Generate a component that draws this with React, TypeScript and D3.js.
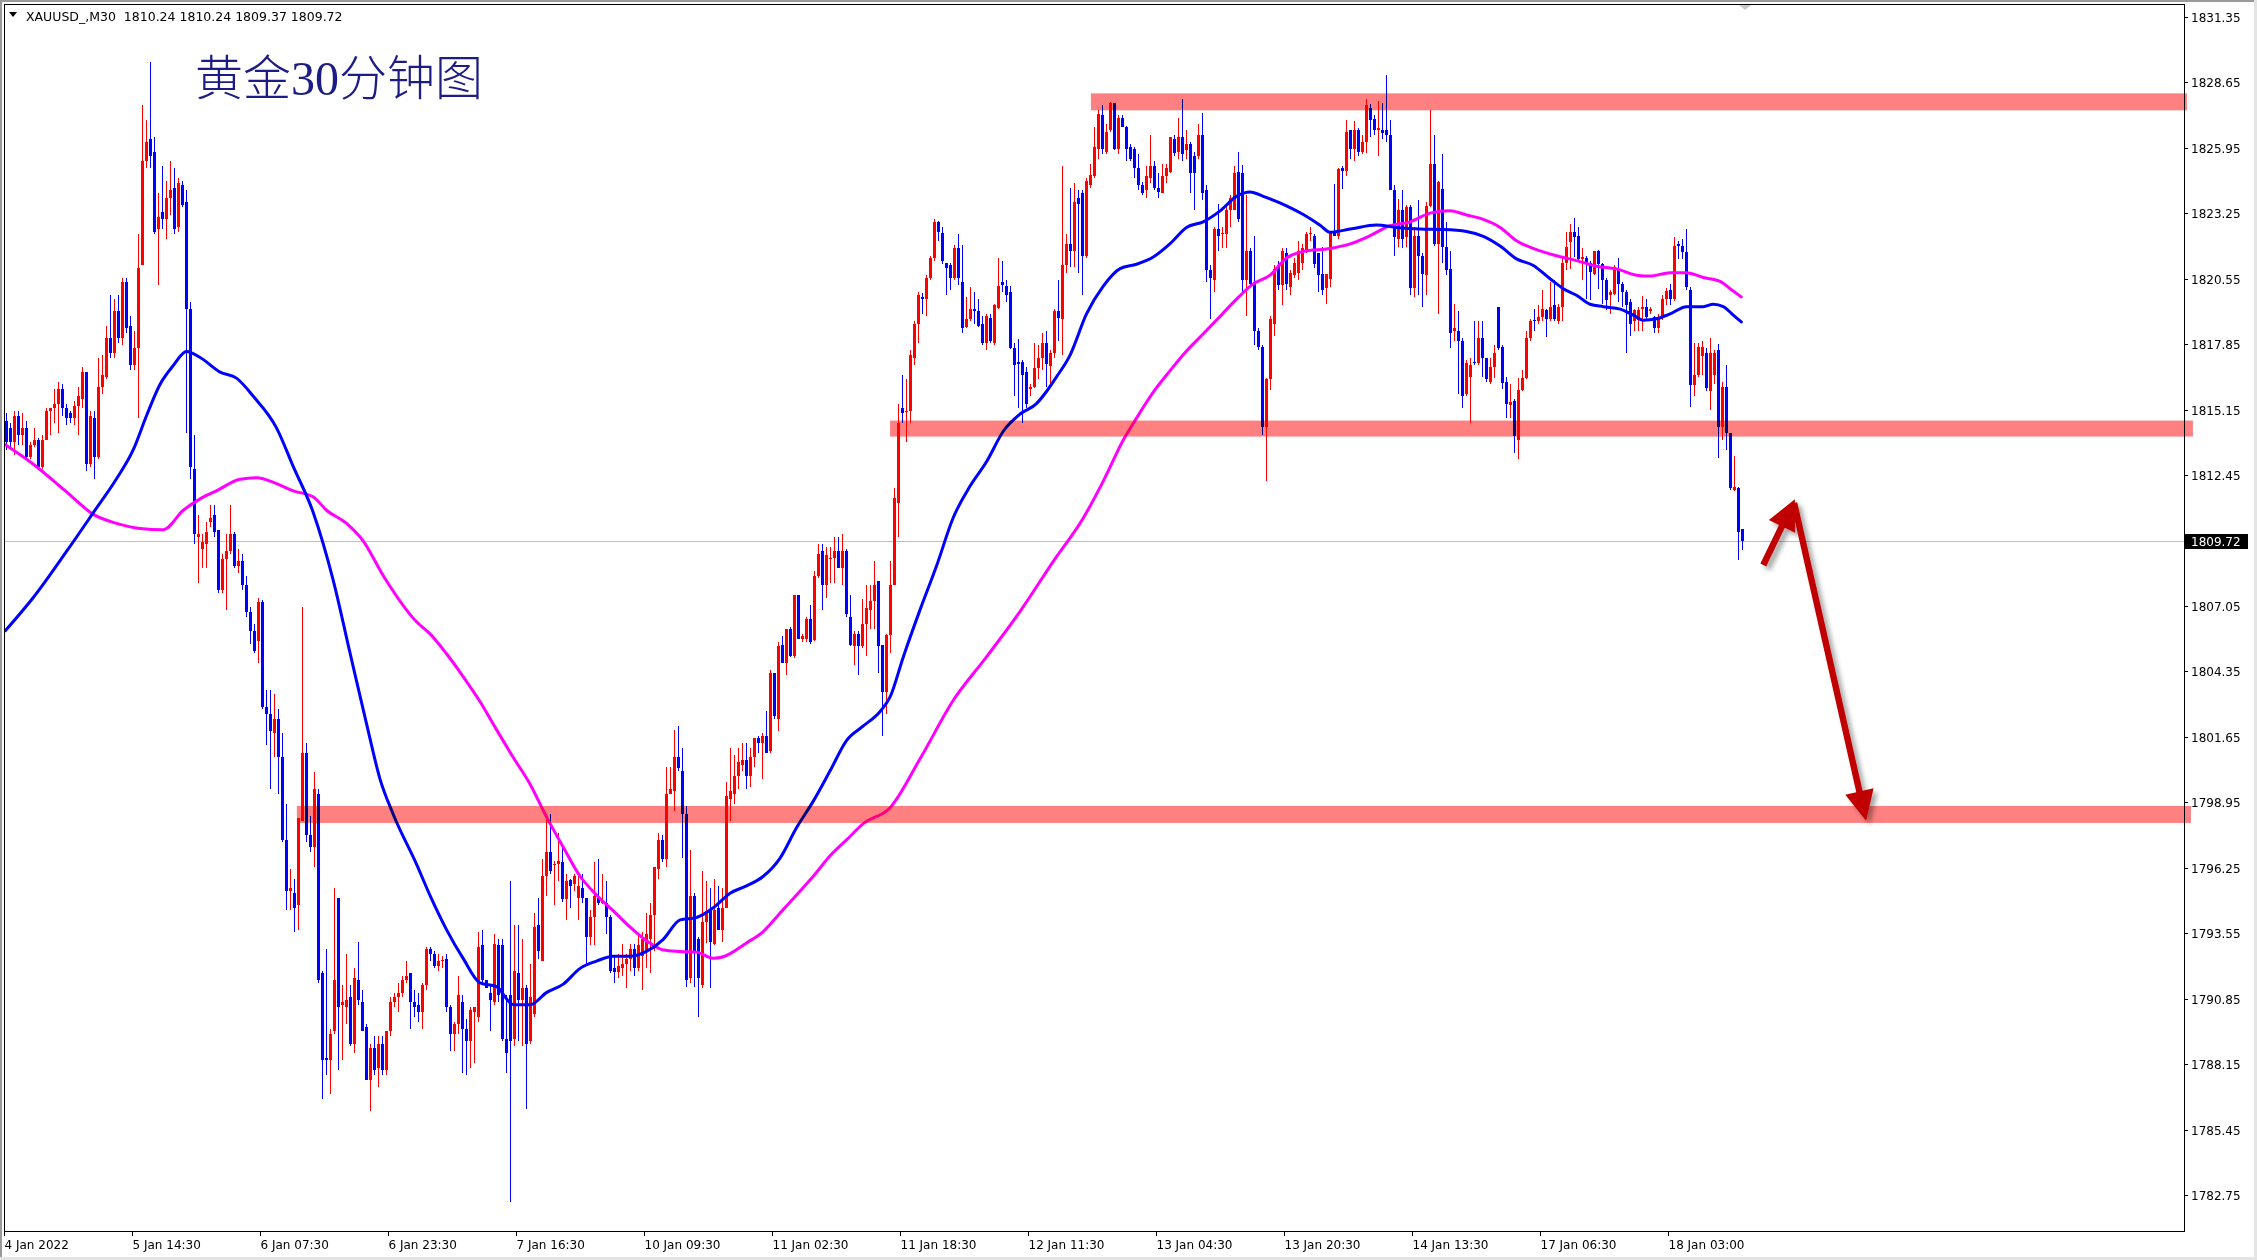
import React from 'react';
import * as d3 from 'd3';

// ---------- DATA ----------
const opens = [
1814.7,1814.4,1813.8,1814.9,1814.1,1814.4,1813.2,1813.7,1813.9,1812.8,
1813.9,1815.1,1815.2,1815.4,1816.0,1815.2,1815.0,1814.8,1815.3,1815.6,
1816.7,1812.9,1814.8,1813.2,1816.1,1816.5,1818.1,1817.5,1819.2,1818.1,
1820.4,1818.6,1817.0,1817.7,1821.1,1825.4,1826.3,1825.8,1822.6,1823.3,
1823.0,1823.9,1824.3,1822.7,1824.4,1823.7,1819.3,1812.7,1809.9,1809.4,
1809.6,1810.5,1810.8,1810.2,1807.7,1809.0,1809.3,1810.0,1808.7,1808.9,
1807.9,1806.8,1806.0,1805.6,1807.2,1802.9,1802.6,1801.8,1802.4,1800.8,
1797.4,1795.3,1795.2,1794.7,1798.2,1801.0,1797.6,1797.1,1799.3,1791.9,
1788.4,1788.3,1789.5,1795.0,1790.6,1790.5,1790.9,1789.0,1791.6,1790.7,
1789.7,1787.5,1788.8,1788.0,1789.0,1787.9,1789.5,1790.7,1790.9,1791.1,
1791.6,1791.9,1790.7,1790.6,1790.3,1791.4,1792.9,1792.7,1792.2,1792.4,
1792.5,1790.5,1789.4,1789.8,1790.7,1789.6,1789.1,1790.3,1790.1,1793.05,
1791.6,1791.1,1790.7,1793.05,1793.05,1789.2,1791.0,1789.2,1791.9,1790.8,
1791.3,1789.1,1790.2,1793.9,1792.4,1795.9,1796.9,1796.35,1796.4,1796.5,
1794.95,1795.75,1795.6,1795.0,1795.4,1795.0,1793.4,1794.2,1795.0,1794.8,
1794.8,1794.2,1792.1,1791.95,1792.1,1792.3,1792.5,1792.9,1792.1,1792.6,
1792.8,1793.3,1794.3,1796.2,1797.4,1796.6,1799.3,1799.4,1800.8,1800.25,
1798.45,1791.7,1795.1,1793.3,1791.4,1794.0,1794.5,1793.1,1794.6,1793.7,
1794.6,1799.1,1799.3,1800.05,1800.5,1800.7,1800.05,1800.8,1801.6,1801.4,
1801.7,1801.05,1804.3,1802.4,1805.45,1804.7,1806.1,1805.0,1807.5,1805.7,
1805.7,1806.5,1805.65,1808.3,1809.3,1807.9,1809.0,1809.05,1809.3,1808.6,
1809.3,1806.6,1805.4,1805.9,1805.4,1806.3,1806.9,1807.25,1808.1,1805.45,
1803.5,1805.85,1807.9,1811.3,1815.2,1815.05,1815.1,1817.3,1818.7,1819.8,
1819.7,1820.6,1821.4,1822.9,1822.45,1821.2,1821.1,1820.6,1821.8,1820.4,
1818.55,1818.9,1819.3,1819.2,1818.7,1817.9,1818.95,1817.9,1819.35,1820.4,
1820.25,1820.0,1817.7,1817.1,1817.1,1816.7,1816.0,1816.1,1816.85,1817.3,
1817.9,1816.95,1817.5,1819.2,1818.9,1821.1,1822.0,1821.7,1823.9,1824.1,
1821.5,1824.4,1824.8,1825.9,1827.3,1825.8,1826.7,1827.8,1825.9,1827.2,
1826.8,1826.0,1825.9,1825.1,1824.4,1824.2,1824.7,1825.2,1824.3,1824.1,
1824.8,1824.95,1826.3,1825.8,1826.4,1825.85,1826.1,1825.6,1825.6,1826.5,
1824.2,1820.9,1820.5,1822.6,1822.4,1822.4,1823.4,1823.4,1824.95,1824.9,
1820.5,1821.7,1820.4,1818.4,1817.75,1814.45,1816.4,1818.7,1821.1,1820.3,
1821.6,1820.2,1820.7,1820.8,1821.2,1821.7,1822.4,1822.3,1821.6,1820.75,
1820.15,1820.55,1822.5,1822.3,1825.1,1825.0,1826.7,1825.9,1826.7,1825.8,
1826.2,1827.6,1827.15,1826.7,1826.7,1826.7,1826.5,1824.2,1822.2,1823.4,
1822.26,1823.5,1820.15,1822.3,1821.5,1820.7,1823.56,1825.3,1822.0,1824.25,
1821.85,1820.96,1818.4,1818.4,1818.0,1815.8,1816.5,1817.1,1817.06,1818.1,
1817.27,1816.3,1816.9,1819.4,1817.75,1816.3,1815.35,1815.5,1813.9,1815.97,
1816.45,1818.1,1818.85,1818.8,1818.97,1819.25,1818.9,1819.45,1818.8,1819.4,
1821.2,1822.05,1822.47,1822.33,1821.37,1821.4,1821.2,1820.76,1821.7,1821.17,
1820.5,1819.9,1819.93,1820.9,1820.35,1820.0,1819.6,1818.8,1818.85,1819.3,
1819.4,1819.2,1818.98,1818.5,1818.98,1819.73,1820.07,1819.7,1822.0,1821.9,
1821.67,1820.1,1816.17,1816.6,1817.35,1817.48,1815.9,1816.6,1817.62,1814.45,
1816.1,1814.18,1811.84,1811.91,1810.24
];

const highs = [
1815.0,1814.6,1815.1,1815.1,1815.0,1814.7,1813.8,1814.4,1814.0,1814.1,
1815.2,1815.2,1816.0,1816.3,1816.2,1815.4,1815.1,1815.5,1816.1,1816.9,
1816.7,1815.1,1815.1,1817.3,1817.4,1818.6,1819.9,1819.7,1819.9,1820.6,
1820.6,1819.0,1818.4,1822.4,1827.7,1827.1,1829.5,1826.4,1824.1,1825.2,
1824.6,1825.4,1825.1,1824.7,1824.6,1824.2,1819.6,1814.1,1810.8,1810.0,
1810.5,1811.2,1811.2,1810.2,1809.2,1810.0,1811.2,1810.1,1809.4,1809.2,
1808.3,1807.0,1806.3,1807.4,1807.3,1803.6,1803.6,1803.4,1802.8,1801.8,
1798.9,1796.2,1795.8,1798.3,1807.0,1801.4,1798.4,1800.2,1799.5,1792.0,
1792.9,1789.6,1795.4,1795.0,1791.4,1792.7,1791.4,1792.1,1793.2,1791.2,
1789.8,1789.0,1789.3,1789.3,1789.3,1789.5,1790.9,1791.1,1791.5,1791.8,
1792.4,1791.9,1791.2,1791.1,1791.5,1793.0,1793.0,1792.8,1792.7,1792.6,
1792.7,1790.6,1789.9,1791.8,1791.0,1790.0,1790.5,1790.5,1793.6,1793.7,
1791.6,1791.4,1793.5,1793.3,1793.3,1791.0,1795.7,1793.9,1793.9,1793.3,
1791.4,1792.3,1794.4,1795.0,1796.6,1798.45,1798.45,1796.55,1797.7,1797.1,
1796.0,1795.8,1796.0,1796.0,1796.0,1795.0,1794.5,1796.5,1796.6,1796.0,
1795.7,1794.3,1792.6,1792.7,1793.1,1792.7,1793.1,1793.1,1793.5,1793.6,
1794.4,1794.8,1796.3,1797.7,1797.6,1800.4,1800.4,1801.95,1802.1,1801.2,
1798.8,1797.0,1795.2,1793.4,1796.1,1795.7,1795.4,1795.8,1795.5,1795.4,
1799.8,1801.2,1800.9,1801.2,1801.4,1801.4,1801.2,1801.6,1801.7,1801.8,
1802.7,1804.4,1804.3,1805.55,1805.8,1806.1,1806.2,1807.5,1807.5,1805.9,
1806.6,1807.1,1808.5,1809.6,1809.6,1809.5,1809.5,1809.9,1809.9,1810.0,
1809.4,1807.5,1806.0,1806.0,1807.35,1807.9,1807.9,1808.9,1808.1,1805.45,
1805.9,1808.9,1811.9,1815.4,1816.6,1816.4,1817.6,1818.8,1820.0,1819.95,
1820.7,1821.5,1823.0,1822.95,1822.7,1821.2,1821.2,1821.95,1822.4,1821.95,
1819.8,1820.2,1820.0,1819.7,1819.0,1819.1,1819.1,1819.5,1821.4,1821.3,
1820.5,1820.25,1817.9,1818.05,1817.2,1816.9,1816.2,1817.9,1817.8,1818.3,
1818.4,1817.6,1819.3,1820.5,1825.2,1822.4,1824.3,1824.5,1824.2,1824.2,
1824.7,1825.3,1826.8,1827.5,1827.7,1826.95,1827.85,1827.8,1827.3,1827.3,
1826.85,1826.1,1826.0,1825.7,1824.55,1825.2,1826.5,1825.4,1824.9,1825.3,
1825.3,1826.4,1826.5,1827.2,1827.95,1826.7,1826.2,1825.8,1826.95,1827.4,
1824.4,1821.1,1822.7,1823.65,1822.7,1823.5,1824.0,1825.2,1825.8,1825.26,
1824.0,1821.8,1822.3,1818.5,1817.8,1816.45,1819.0,1821.1,1821.3,1821.8,
1821.8,1820.9,1821.4,1822.1,1822.0,1822.5,1822.7,1822.4,1821.6,1821.85,
1820.75,1822.5,1824.45,1825.1,1825.2,1827.1,1826.7,1827.05,1826.75,1826.5,
1827.95,1827.75,1827.3,1827.9,1827.8,1828.96,1827.1,1824.4,1823.83,1824.2,
1823.6,1823.6,1822.67,1823.8,1821.6,1823.7,1827.5,1826.5,1824.6,1825.7,
1822.9,1821.7,1819.5,1819.2,1818.1,1817.2,1817.3,1818.8,1818.8,1818.8,
1817.3,1817.3,1817.8,1819.4,1817.8,1816.5,1816.2,1815.6,1816.45,1816.8,
1818.4,1818.9,1819.3,1819.45,1820.1,1819.3,1820.4,1820.5,1819.5,1821.5,
1822.5,1822.8,1823.05,1822.67,1821.8,1821.5,1821.3,1821.7,1821.75,1821.2,
1820.6,1820.1,1821.1,1821.4,1820.4,1820.1,1819.7,1819.3,1819.4,1819.84,
1819.7,1819.4,1819.0,1819.1,1819.87,1820.17,1820.35,1822.26,1822.1,1822.2,
1822.6,1820.2,1817.9,1817.9,1818.0,1817.7,1818.1,1817.6,1817.85,1816.3,
1817.0,1814.2,1813.22,1811.95,1810.24
];

const lows = [
1813.5,1813.6,1813.3,1813.7,1813.7,1813.1,1813.1,1813.6,1812.7,1812.7,
1813.9,1814.1,1814.6,1814.2,1814.9,1814.5,1814.6,1814.5,1814.1,1815.2,
1812.6,1812.8,1812.3,1813.1,1815.8,1816.4,1817.3,1817.3,1817.9,1817.8,
1818.3,1816.8,1816.8,1814.8,1821.1,1825.1,1825.1,1822.4,1820.3,1822.6,
1822.2,1823.2,1822.4,1822.5,1823.5,1814.2,1812.3,1809.6,1808.0,1808.6,
1808.6,1810.3,1809.9,1807.6,1807.6,1806.9,1809.2,1808.6,1808.4,1807.7,
1806.6,1805.5,1805.1,1804.7,1802.8,1801.3,1799.5,1800.8,1799.3,1797.3,
1794.5,1794.5,1793.6,1793.7,1798.2,1797.3,1796.9,1796.3,1791.5,1786.7,
1787.7,1786.9,1789.4,1787.9,1788.3,1789.8,1788.9,1788.6,1790.6,1789.5,
1787.5,1786.2,1787.7,1787.2,1787.7,1787.7,1789.3,1790.5,1790.3,1790.9,
1791.5,1789.6,1790.1,1789.9,1789.6,1791.2,1792.4,1792.1,1792.0,1792.1,
1790.3,1788.7,1788.7,1789.4,1787.8,1787.7,1788.0,1788.2,1789.9,1791.5,
1791.3,1789.5,1790.6,1790.7,1789.1,1787.8,1782.45,1788.9,1789.1,1788.9,
1786.3,1789.0,1790.1,1792.5,1792.4,1795.1,1796.0,1794.7,1795.7,1794.85,
1794.1,1794.6,1795.3,1794.1,1794.8,1792.3,1793.05,1793.05,1794.7,1794.75,
1793.5,1791.9,1791.5,1791.7,1791.8,1791.3,1792.0,1791.8,1792.0,1791.2,
1792.1,1791.9,1792.8,1795.8,1796.5,1796.3,1799.3,1798.6,1800.25,1796.65,
1791.35,1791.5,1791.35,1790.1,1791.3,1793.15,1791.3,1793.05,1793.7,1793.2,
1794.6,1798.2,1798.9,1799.5,1800.25,1799.5,1799.6,1800.4,1801.0,1799.9,
1801.0,1801.0,1802.4,1801.9,1804.7,1804.2,1804.95,1804.9,1805.7,1805.55,
1805.55,1805.5,1805.6,1808.2,1806.9,1807.4,1808.0,1808.0,1808.6,1807.9,
1806.6,1805.4,1804.6,1804.2,1805.3,1805.0,1806.1,1806.1,1804.3,1801.7,
1802.6,1805.1,1807.9,1809.9,1814.6,1813.8,1814.6,1817.0,1817.9,1819.1,
1819.0,1820.5,1821.3,1822.1,1821.15,1819.9,1820.1,1820.5,1820.3,1818.3,
1818.5,1818.8,1818.7,1818.55,1817.8,1817.6,1817.9,1817.8,1819.3,1820.0,
1819.6,1817.65,1815.7,1815.2,1814.6,1815.2,1815.7,1816.05,1816.4,1816.8,
1816.1,1816.2,1817.3,1818.0,1817.4,1820.8,1821.05,1821.05,1820.8,1819.9,
1821.4,1824.3,1824.7,1825.5,1825.7,1825.7,1826.6,1825.85,1825.7,1826.8,
1825.4,1825.4,1824.7,1824.2,1824.0,1823.9,1824.5,1824.2,1823.9,1824.1,
1824.5,1824.9,1825.6,1825.5,1825.4,1825.5,1824.1,1823.4,1825.5,1823.8,
1820.4,1818.9,1820.0,1821.7,1821.8,1821.8,1822.7,1823.4,1822.9,1819.9,
1819.0,1820.2,1817.8,1817.6,1814.1,1812.2,1815.95,1818.2,1820.1,1819.45,
1820.1,1819.9,1820.6,1820.5,1820.9,1821.6,1822.1,1821.0,1820.0,1819.9,
1819.5,1820.2,1822.3,1822.2,1824.25,1824.8,1825.5,1825.4,1825.6,1825.7,
1825.75,1826.4,1826.5,1825.6,1826.3,1826.2,1824.2,1821.5,1821.85,1821.8,
1821.85,1819.9,1819.8,1819.9,1819.4,1819.9,1823.5,1821.9,1819.1,1821.2,
1820.7,1817.7,1818.0,1815.8,1815.2,1815.7,1814.6,1817.0,1817.0,1816.5,
1816.3,1816.2,1816.45,1817.6,1816.0,1814.8,1814.8,1813.37,1813.1,1815.9,
1816.4,1818.0,1818.4,1818.7,1818.8,1818.15,1818.8,1818.8,1818.7,1818.8,
1820.9,1820.96,1821.44,1821.3,1820.5,1819.7,1819.66,1820.7,1820.14,1819.5,
1819.25,1819.1,1819.9,1819.6,1819.4,1817.5,1818.2,1818.4,1818.4,1818.4,
1818.8,1819.1,1818.3,1818.3,1818.85,1819.45,1819.45,1819.65,1821.37,1821.37,
1820.1,1815.24,1815.7,1816.5,1816.6,1815.9,1815.14,1816.2,1813.15,1813.9,
1813.49,1811.84,1811.8,1808.95,1809.37
];

const closes = [
1813.8,1813.8,1814.9,1814.1,1814.4,1813.2,1813.7,1813.9,1812.8,1813.9,
1815.1,1815.2,1815.4,1816.0,1815.2,1814.8,1814.8,1815.3,1815.7,1816.7,
1812.9,1814.9,1813.2,1816.1,1816.6,1818.1,1817.5,1819.2,1818.1,1820.4,
1818.5,1817.0,1817.7,1821.0,1825.4,1826.2,1825.6,1822.5,1823.1,1823.0,
1823.9,1824.2,1822.6,1824.5,1823.6,1819.3,1812.8,1810.0,1810.0,1809.7,
1810.1,1810.7,1810.1,1807.7,1809.0,1809.3,1810.0,1808.7,1808.9,1807.9,
1806.8,1806.0,1805.2,1807.2,1802.9,1802.6,1801.9,1802.4,1800.8,1797.4,
1795.3,1795.4,1794.6,1798.3,1801.0,1797.6,1797.1,1799.5,1791.6,1788.3,
1788.3,1789.4,1791.6,1790.5,1790.7,1790.8,1789.0,1791.7,1790.8,1789.5,
1787.5,1788.8,1787.9,1789.0,1787.9,1789.5,1790.7,1790.9,1791.1,1791.6,
1791.8,1790.7,1790.5,1790.3,1791.4,1792.9,1792.7,1792.2,1792.4,1792.45,
1790.5,1789.4,1789.8,1791.0,1789.6,1789.1,1790.4,1790.5,1793.0,1791.6,
1791.3,1790.8,1793.1,1791.0,1789.2,1788.6,1789.1,1792.0,1790.8,1791.3,
1789.0,1790.9,1793.8,1792.8,1795.9,1796.9,1796.1,1796.4,1796.55,1794.95,
1795.7,1795.5,1795.9,1795.5,1795.0,1793.4,1794.2,1795.1,1794.8,1794.9,
1794.2,1792.0,1791.95,1792.2,1792.3,1792.5,1792.9,1792.1,1793.05,1793.3,
1793.5,1794.3,1796.3,1797.4,1796.6,1799.3,1799.5,1800.8,1800.35,1798.45,
1791.6,1795.1,1792.8,1791.7,1794.0,1794.4,1793.2,1794.5,1793.7,1794.6,
1799.2,1799.4,1800.05,1800.6,1800.7,1800.05,1800.8,1801.6,1801.4,1801.7,
1801.0,1804.3,1802.5,1805.4,1804.7,1806.1,1805.0,1807.5,1805.7,1805.8,
1806.5,1805.55,1808.3,1809.2,1807.9,1809.15,1809.05,1809.3,1808.6,1809.3,
1806.7,1805.45,1805.9,1805.4,1806.3,1806.95,1807.25,1807.9,1805.4,1803.5,
1805.85,1807.9,1811.5,1814.6,1815.0,1815.1,1817.4,1818.7,1819.9,1819.7,
1820.6,1821.4,1822.9,1822.5,1821.3,1821.0,1820.6,1821.8,1820.6,1818.5,
1818.9,1819.3,1819.2,1818.6,1817.9,1819.0,1818.0,1819.45,1820.25,1820.3,
1819.9,1817.7,1817.0,1817.05,1816.6,1815.4,1816.1,1816.85,1817.3,1817.9,
1817.05,1817.5,1819.2,1818.95,1821.1,1822.0,1821.7,1823.7,1823.65,1821.5,
1824.6,1824.85,1826.0,1827.35,1825.9,1826.6,1827.8,1825.9,1827.2,1826.8,
1825.9,1825.5,1825.1,1824.4,1824.1,1824.8,1825.2,1824.3,1824.15,1824.8,
1825.1,1826.4,1825.75,1826.4,1825.7,1826.1,1824.9,1824.9,1826.5,1824.1,
1820.9,1820.6,1822.6,1822.3,1822.45,1823.4,1823.9,1824.9,1823.0,1820.5,
1821.7,1820.35,1818.4,1817.75,1814.45,1816.4,1818.9,1820.95,1820.3,1821.7,
1820.35,1820.8,1821.2,1821.7,1821.8,1822.4,1822.45,1821.15,1820.7,1820.1,
1820.75,1822.5,1822.3,1825.07,1825.0,1826.6,1825.9,1826.7,1825.8,1826.2,
1827.7,1827.1,1826.7,1826.75,1826.55,1826.5,1824.2,1822.26,1823.4,1822.2,
1823.5,1820.15,1822.33,1821.5,1820.76,1823.56,1825.3,1821.99,1824.55,1821.85,
1820.9,1818.3,1818.5,1818.0,1815.7,1817.06,1817.0,1817.06,1818.1,1817.27,
1816.4,1816.9,1817.5,1817.7,1816.25,1815.4,1815.45,1814.05,1815.97,1816.45,
1818.1,1818.8,1818.8,1818.97,1819.3,1818.9,1819.4,1818.9,1819.4,1821.2,
1821.85,1822.47,1822.26,1821.37,1821.44,1821.2,1820.85,1821.7,1821.17,1820.5,
1819.66,1820.0,1821.03,1820.35,1820.0,1819.45,1818.7,1819.25,1819.25,1819.4,
1818.98,1819.3,1818.5,1818.98,1819.73,1820.03,1819.7,1821.92,1821.9,1821.65,
1820.2,1816.17,1816.6,1817.75,1817.75,1816.04,1817.48,1817.48,1814.45,1816.1,
1814.18,1811.91,1811.95,1810.12,1809.72
];

// Moving averages, sampled along the picture: [bar index, price]
const maBlue: [number, number][] = [
[0,1806.03],[7,1807.4],[15.3,1809.3],[22,1810.9],[27.8,1812.3],[32,1813.5],[35.3,1814.9],[38.7,1816.2],
[42,1816.97],[45.3,1817.55],[48.7,1817.3],[53.7,1816.7],[57.8,1816.45],[62,1815.7],[67.8,1814.4],[72,1812.8],
[77,1810.9],[82,1808.1],[86.2,1805.1],[90.3,1802.2],[93.7,1799.9],[97,1798.45],[102.8,1796.4],[106.2,1795.1],
[110.3,1793.7],[114.5,1792.5],[118.7,1791.5],[122.8,1791.35],[127,1790.6],[131.2,1790.6],[135.3,1791.1],
[139.5,1791.45],[143.7,1792.1],[147.8,1792.4],[152,1792.6],[156.2,1792.6],[160.3,1792.8],[164.5,1793.3],
[168.7,1794.1],[172.8,1794.2],[177,1794.6],[181.2,1795.2],[185.3,1795.5],[189.5,1795.9],[193.7,1796.65],
[197.8,1797.9],[202,1799.0],[206.2,1800.25],[210.3,1801.5],[214.5,1802.1],[218.7,1802.7],[221.2,1803.3],
[224.5,1804.95],[228.7,1806.9],[232.8,1808.7],[237,1810.7],[241.2,1812.0],[245.3,1813.0],[249.5,1814.26],
[253.7,1814.97],[257.8,1815.4],[260.3,1815.9],[262.8,1816.5],[266.2,1817.4],[270.3,1819.1],[274.5,1820.25],
[278.7,1820.97],[282.8,1821.15],[287,1821.45],[291.2,1822.0],[295.3,1822.67],[299.5,1822.9],[303.7,1823.35],
[307.8,1823.95],[311.2,1824.13],[314.5,1823.95],[320.3,1823.56],[324.5,1823.2],[328.7,1822.76],[331.2,1822.47],
[336.2,1822.6],[342.8,1822.77],[347.8,1822.67],[353.7,1822.6],[359.5,1822.58],[365.3,1822.5],[369.5,1822.3],
[373.7,1821.9],[377.8,1821.37],[382,1821.1],[386.2,1820.55],[389.5,1820.14],[392.8,1819.87],[396.2,1819.5],
[399.5,1819.4],[403.7,1819.3],[407,1819.05],[409.5,1818.84],[412.8,1818.9],[416.2,1819.1],[420.3,1819.4],
[424.5,1819.4],[427,1819.5],[429.5,1819.4],[432,1819.05],[434,1818.77]
];
const maMagenta: [number, number][] = [
[0,1813.7],[7,1812.9],[15.3,1811.76],[22,1810.83],[27.8,1810.46],[33.7,1810.25],[39.5,1810.2],[44.5,1811.0],
[48.7,1811.47],[52.8,1811.8],[58.7,1812.28],[62.8,1812.34],[67.8,1812.1],[72,1811.8],[77,1811.55],[80.3,1811.0],
[85.3,1810.46],[89.5,1809.73],[94.5,1808.3],[102.8,1806.4],[106.2,1805.9],[110.3,1805.08],[114.5,1804.13],
[118.7,1803.1],[122.8,1801.95],[127,1800.8],[131.2,1799.7],[135.3,1798.35],[139.5,1797.1],[143.7,1795.9],
[147.8,1795.13],[152,1794.47],[156.2,1793.8],[160.3,1793.24],[164.5,1792.86],[168.7,1792.8],[172.8,1792.77],
[177,1792.52],[179.5,1792.58],[185.3,1793.15],[189.5,1793.62],[193.7,1794.38],[197.8,1795.13],[202,1795.9],
[206.2,1796.75],[210.3,1797.4],[214.5,1798.07],[221.2,1798.73],[228.7,1800.75],[237,1803.16],[245.3,1804.95],
[253.7,1806.83],[262,1808.89],[269.5,1810.68],[274.5,1812.2],[279.5,1813.9],[282.8,1814.8],[287,1815.87],
[291.2,1816.76],[295.3,1817.57],[299.5,1818.28],[303.7,1819.0],[307.8,1819.71],[312,1820.34],[316.2,1820.7],
[320.3,1821.41],[324.5,1821.68],[331.2,1821.8],[336.2,1821.99],[341.2,1822.33],[346.2,1822.74],[351.2,1822.9],
[356.2,1823.26],[361.2,1823.36],[365.3,1823.18],[369.5,1823.0],[373.7,1822.67],[377.8,1822.12],[382.8,1821.75],
[387.8,1821.5],[392.8,1821.3],[397.8,1821.07],[402.8,1820.96],[407.8,1820.7],[411.2,1820.66],[416.2,1820.8],
[420.3,1820.8],[424.5,1820.6],[428.7,1820.44],[431.2,1820.14],[434,1819.8]
];

const priceTicks = [1831.35,1828.65,1825.95,1823.25,1820.55,1817.85,1815.15,1812.45,
  1807.05,1804.35,1801.65,1798.95,1796.25,1793.55,1790.85,1788.15,1785.45,1782.75];
const timeLabels = ["4 Jan 2022","5 Jan 14:30","6 Jan 07:30","6 Jan 23:30","7 Jan 16:30",
  "10 Jan 09:30","11 Jan 02:30","11 Jan 18:30","12 Jan 11:30","13 Jan 04:30",
  "13 Jan 20:30","14 Jan 13:30","17 Jan 06:30","18 Jan 03:00"];
const timeLabelBars = [0,32,64,96,128,160,192,224,256,288,320,352,384,416];

// support / resistance zones (bar index range, price range)
const bandFromBar = [271.4, 221.2, 72.9];
const bandToBar = [545.4, 546.9, 546.4];
const bandHigh = [1828.2, 1814.7, 1798.8];
const bandLow = [1827.5, 1814.04, 1798.1];

// arrows (bar index, price)
const arrowFromBar = [439.5, 447.2];
const arrowFromPrice = [1808.74, 1811.3];
const arrowToBar = [447.4, 465.2];
const arrowToPrice = [1811.45, 1798.19];

const lastPrice = 1809.72;
const header = "XAUUSD_,M30  1810.24 1810.24 1809.37 1809.72";
const title = "黄金30分钟图";

// ---------- CHART ----------
const W = 2257, H = 1260;
const PL = 4, PT = 4, PR = 2184, PB = 1231;
const UP = '#FF0000', DOWN = '#0000FF';
const AXIS_FONT = '"DejaVu Sans", Tahoma, Verdana, sans-serif';

function arrowPath(x0: number, y0: number, x1: number, y1: number, hl: number, hw: number, sw: number) {
  const dx = x1 - x0, dy = y1 - y0;
  const len = Math.hypot(dx, dy);
  const ux = dx / len, uy = dy / len;
  const px = -uy, py = ux;
  const bx = x1 - ux * hl, by = y1 - uy * hl;
  const pts = [
    [x0 + px * sw, y0 + py * sw],
    [bx + px * sw, by + py * sw],
    [bx + px * hw, by + py * hw],
    [x1, y1],
    [bx - px * hw, by - py * hw],
    [bx - px * sw, by - py * sw],
    [x0 - px * sw, y0 - py * sw],
  ];
  return 'M' + pts.map(p => p[0].toFixed(1) + ',' + p[1].toFixed(1)).join('L') + 'Z';
}

export default function App() {
  const n = Math.min(opens.length, highs.length, lows.length, closes.length);
  const x = d3.scaleLinear().domain([0, 434]).range([5.3, 1741.3]);
  const y = d3.scaleLinear().domain([1782.75, 1831.35]).range([1195, 17]);
  const line = d3.line<[number, number]>()
    .x(d => x(d[0]))
    .y(d => y(d[1]))
    .curve(d3.curveMonotoneX);

  const candles = d3.range(n).map(i => {
    const o = opens[i], h = highs[i], l = lows[i], c = closes[i];
    const up = c >= o;
    const wx = Math.floor(x(i)) + 1;
    const yh = Math.round(y(Math.max(h, o, c)));
    const yl = Math.round(y(Math.min(l, o, c)));
    const bt = Math.round(y(Math.max(o, c)));
    const bb = Math.round(y(Math.min(o, c)));
    const col = up ? UP : DOWN;
    return (
      <g key={i} fill={col}>
        <rect x={wx} y={yh} width={1} height={Math.max(1, yl - yh)} />
        <rect x={wx - 1} y={bt} width={3} height={Math.max(1, bb - bt)} />
      </g>
    );
  });

  const yLast = y(lastPrice);

  return (
    <svg width={W} height={H} viewBox={`0 0 ${W} ${H}`}
      style={{ position: 'absolute', left: 0, top: 0, background: '#fff', display: 'block' }}>
      <defs>
        <clipPath id="plotClip">
          <rect x={PL} y={PT} width={PR - PL} height={PB - PT} />
        </clipPath>
        <filter id="arrowShadow" x="-50%" y="-50%" width="200%" height="200%">
          <feDropShadow dx="4" dy="4" stdDeviation="2.5" floodColor="#000" floodOpacity="0.35" />
        </filter>
      </defs>
      <rect x={0} y={0} width={W} height={H} fill="#fff" />

      {/* window frame */}
      <rect x={0} y={0} width={W} height={2} fill="#9a9a9a" />
      <rect x={0} y={0} width={2} height={H} fill="#9a9a9a" />
      <rect x={W - 3} y={0} width={3} height={H} fill="#e4e4e4" />
      <rect x={0} y={H - 3} width={W} height={3} fill="#e4e4e4" />

      {/* last price line */}
      <line x1={PL} x2={PR} y1={Math.round(yLast) + 0.5} y2={Math.round(yLast) + 0.5} stroke="#c0c0c0" strokeWidth={1} />

      <g clipPath="url(#plotClip)" shapeRendering="crispEdges">{candles}</g>

      <g clipPath="url(#plotClip)" fill="none" strokeLinejoin="round" strokeLinecap="round">
        <path d={line(maMagenta) || ''} stroke="#FF00FF" strokeWidth={3} />
        <path d={line(maBlue) || ''} stroke="#0000FF" strokeWidth={3} />
      </g>

      {/* zones */}
      {bandFromBar.map((b, k) => (
        <rect key={'band' + k} x={x(b)} y={y(bandHigh[k])} width={x(bandToBar[k]) - x(b)}
          height={y(bandLow[k]) - y(bandHigh[k])} fill="#FF8080" style={{ mixBlendMode: 'multiply' }} />
      ))}

      {/* plot frame */}
      <rect x={PL + 0.5} y={PT + 0.5} width={PR - PL} height={PB - PT} fill="none" stroke="#000" strokeWidth={1} />

      {/* top shift marker */}
      <polygon points="1739,5 1751,5 1745,10" fill="#c8c8c8" />

      {/* right axis */}
      <g fontFamily={AXIS_FONT} fontSize={12} fill="#000">
        {priceTicks.map(p => {
          const yy = Math.round(y(p)) + 0.5;
          return (
            <g key={p}>
              <line x1={PR} x2={PR + 4} y1={yy} y2={yy} stroke="#000" />
              <text x={2191} y={yy + 4.5}>{p.toFixed(2)}</text>
            </g>
          );
        })}
        <rect x={2185} y={Math.round(yLast) - 7} width={63} height={15} fill="#000" />
        <text x={2191} y={Math.round(yLast) + 5} fill="#fff">{lastPrice.toFixed(2)}</text>
      </g>

      {/* bottom axis */}
      <g fontFamily={AXIS_FONT} fontSize={12} fill="#000">
        {timeLabelBars.map((b, k) => {
          const xx = Math.floor(x(b)) - 0.5;
          return (
            <g key={b}>
              <line x1={xx} x2={xx} y1={PB} y2={PB + 5} stroke="#000" />
              <text x={xx} y={1249}>{timeLabels[k]}</text>
            </g>
          );
        })}
      </g>

      {/* header */}
      <polygon points="9,12 17,12 13,17" fill="#000" />
      <text x={26} y={21} fontFamily={AXIS_FONT} fontSize={12.5} fill="#000" style={{ whiteSpace: 'pre' }}>{header}</text>

      {/* title */}
      <text x={195} y={95} fontSize={48} fill="#1c1c84" fontWeight={300}
        fontFamily='"Liberation Serif","Noto Sans CJK SC",serif'>{title}</text>

      {/* arrows */}
      <g filter="url(#arrowShadow)" fill="#C00000">
        {arrowFromBar.map((b, k) => (
          <path key={'arr' + k}
            d={arrowPath(x(b), y(arrowFromPrice[k]), x(arrowToBar[k]), y(arrowToPrice[k]), 30, 14.5, 3.2)} />
        ))}
      </g>
    </svg>
  );
}
